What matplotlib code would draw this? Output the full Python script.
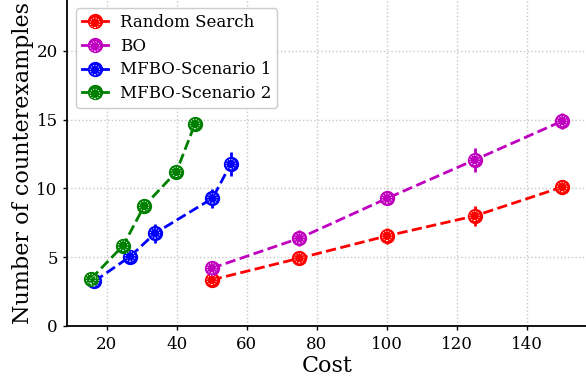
import matplotlib
matplotlib.use("Agg")
import matplotlib.pyplot as plt
from matplotlib.lines import Line2D

plt.rcParams["font.family"] = "DejaVu Serif"

# data
rs_cost = [50, 75, 100, 125, 150]
rs_vals = [3.35, 4.93, 6.55, 8.0, 10.1]
rs_err = [0.25, 0.3, 0.6, 0.7, 0.4]

bo_cost = [50, 75, 100, 125, 150]
bo_vals = [4.2, 6.38, 9.28, 12.07, 14.9]
bo_err = [0.3, 0.6, 0.35, 0.85, 0.6]

mf1_cost = [16.5, 26.7, 33.8, 50.2, 55.4]
mf1_vals = [3.25, 5.05, 6.74, 9.28, 11.77]
mf1_err = [0.25, 0.35, 0.7, 0.7, 0.85]

mf2_cost = [15.5, 24.7, 30.7, 39.9, 45.2]
mf2_vals = [3.42, 5.84, 8.72, 11.21, 14.68]
mf2_err = [0.2, 0.4, 0.35, 0.3, 0.3]

series = [
    ("Random Search", rs_cost, rs_vals, rs_err, "red"),
    ("BO", bo_cost, bo_vals, bo_err, "m"),
    ("MFBO-Scenario 1", mf1_cost, mf1_vals, mf1_err, "blue"),
    ("MFBO-Scenario 2", mf2_cost, mf2_vals, mf2_err, "green"),
]

fig = plt.figure(figsize=(5.86, 3.76), dpi=100)
ax = fig.add_axes([0.115, 0.133, 0.885, 0.867])

handles = []
for label, xs, ys, errs, color in series:
    ax.errorbar(xs, ys, yerr=errs, color=color, ls="--", lw=2,
                marker="o", ms=10, elinewidth=2, capsize=0, zorder=3)
    ring = ax.scatter(xs, ys, s=45, facecolors="none", edgecolors="white",
                      linestyles=":", linewidths=0.7, zorder=4)
    line = Line2D([], [], color=color, lw=2, marker="o", ms=10)
    handles.append((line, ring))

ax.set_xlim(8.8, 156.8)
ax.set_ylim(0, 23.7)
ax.set_xticks([20, 40, 60, 80, 100, 120, 140])
ax.set_yticks([0, 5, 10, 15, 20])
ax.tick_params(labelsize=12, width=1, length=3, pad=4)
ax.grid(True, ls=":", color="#c8c8c8", lw=1)
ax.set_axisbelow(True)

for side in ["top", "right"]:
    ax.spines[side].set_visible(False)
for side in ["left", "bottom"]:
    ax.spines[side].set_linewidth(1.3)

ax.set_xlabel("Cost", fontsize=16, labelpad=2)
ax.set_ylabel("Number of counterexamples", fontsize=16, labelpad=2)

ax.legend(handles, [s[0] for s in series], loc="upper left", fontsize=12,
          framealpha=1, edgecolor="#cccccc", borderaxespad=0.5,
          handlelength=1.6, handletextpad=0.7, labelspacing=0.4,
          borderpad=0.35)

fig.savefig("out.png", dpi=100)
